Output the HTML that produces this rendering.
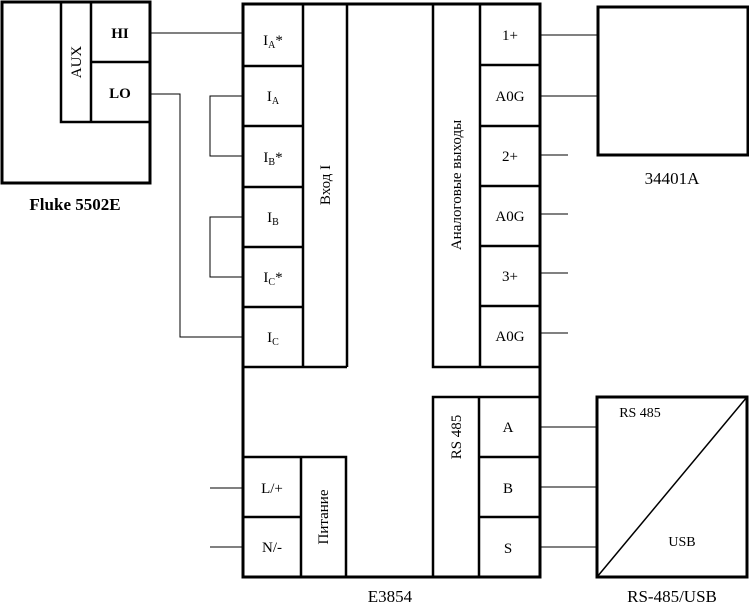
<!DOCTYPE html>
<html><head><meta charset="utf-8"><style>
html,body{margin:0;padding:0;background:#fff;}
svg{display:block;}
text{font-family:"Liberation Serif",serif;font-size:15px;fill:#000;}
.b{font-weight:bold;}
</style></head><body>
<svg width="749" height="604" viewBox="0 0 749 604" xmlns="http://www.w3.org/2000/svg">
<g fill="none" stroke="#000">
<rect x="2" y="2" width="148" height="181" stroke-width="3"/>
<polyline points="61,2 61,122 150,122" stroke-width="2.5"/>
<line x1="91" y1="2" x2="91" y2="122" stroke-width="2.5"/>
<line x1="91" y1="62" x2="150" y2="62" stroke-width="2.5"/>
<rect x="243" y="4" width="297" height="573" stroke-width="3"/>
<line x1="243" y1="367" x2="347" y2="367" stroke-width="2.5"/>
<line x1="303" y1="4" x2="303" y2="367" stroke-width="2.5"/>
<line x1="347" y1="4" x2="347" y2="367" stroke-width="2.5"/>
<line x1="243" y1="66" x2="303" y2="66" stroke-width="2.5"/>
<line x1="243" y1="126" x2="303" y2="126" stroke-width="2.5"/>
<line x1="243" y1="187" x2="303" y2="187" stroke-width="2.5"/>
<line x1="243" y1="247" x2="303" y2="247" stroke-width="2.5"/>
<line x1="243" y1="307" x2="303" y2="307" stroke-width="2.5"/>
<polyline points="433,4 433,367 540,367" stroke-width="2.5"/>
<line x1="480" y1="4" x2="480" y2="367" stroke-width="2.5"/>
<line x1="480" y1="65" x2="540" y2="65" stroke-width="2.5"/>
<line x1="480" y1="126" x2="540" y2="126" stroke-width="2.5"/>
<line x1="480" y1="186" x2="540" y2="186" stroke-width="2.5"/>
<line x1="480" y1="246" x2="540" y2="246" stroke-width="2.5"/>
<line x1="480" y1="306" x2="540" y2="306" stroke-width="2.5"/>
<polyline points="243,457 346,457 346,577" stroke-width="2.5"/>
<line x1="301" y1="457" x2="301" y2="577" stroke-width="2.5"/>
<line x1="243" y1="517" x2="301" y2="517" stroke-width="2.5"/>
<polyline points="433,577 433,397 540,397" stroke-width="2.5"/>
<line x1="479" y1="397" x2="479" y2="577" stroke-width="2.5"/>
<line x1="479" y1="457" x2="540" y2="457" stroke-width="2.5"/>
<line x1="479" y1="517" x2="540" y2="517" stroke-width="2.5"/>
<rect x="598" y="7" width="150" height="148" stroke-width="3"/>
<rect x="597" y="397" width="150" height="180" stroke-width="3"/>
<line x1="597" y1="577" x2="747" y2="397" stroke-width="1.5"/>
<g stroke-width="1">
<line x1="150" y1="33" x2="243" y2="33"/>
<polyline points="150,94 180,94 180,337 243,337"/>
<polyline points="243,96 210,96 210,156 243,156"/>
<polyline points="243,217 210,217 210,277 243,277"/>
<line x1="540" y1="35" x2="598" y2="35"/>
<line x1="540" y1="96" x2="598" y2="96"/>
<line x1="540" y1="155" x2="568" y2="155"/>
<line x1="540" y1="214" x2="568" y2="214"/>
<line x1="540" y1="273" x2="568" y2="273"/>
<line x1="540" y1="333" x2="568" y2="333"/>
<line x1="540" y1="427" x2="597" y2="427"/>
<line x1="540" y1="487" x2="597" y2="487"/>
<line x1="540" y1="547" x2="597" y2="547"/>
<line x1="210" y1="488" x2="243" y2="488"/>
<line x1="210" y1="547" x2="243" y2="547"/>
</g>
</g>
<g text-anchor="middle">
<text x="120" y="38" class="b">HI</text>
<text x="120" y="98" class="b">LO</text>
<text transform="translate(81,62) rotate(-90)">AUX</text>
<text x="75" y="210" class="b" style="font-size:17px">Fluke 5502E</text>
<text x="273" y="45">I<tspan font-size="10" dy="3">A</tspan><tspan dy="-3">*</tspan></text>
<text x="273" y="101">I<tspan font-size="10" dy="3">A</tspan></text>
<text x="273" y="162">I<tspan font-size="10" dy="3">B</tspan><tspan dy="-3">*</tspan></text>
<text x="273" y="222">I<tspan font-size="10" dy="3">B</tspan></text>
<text x="273" y="282">I<tspan font-size="10" dy="3">C</tspan><tspan dy="-3">*</tspan></text>
<text x="273" y="342">I<tspan font-size="10" dy="3">C</tspan></text>
<text transform="translate(330,185) rotate(-90)">Вход I</text>
<text transform="translate(461,185) rotate(-90)">Аналоговые выходы</text>
<text x="510" y="40">1+</text>
<text x="510" y="101">A0G</text>
<text x="510" y="161">2+</text>
<text x="510" y="221">A0G</text>
<text x="510" y="281">3+</text>
<text x="510" y="341">A0G</text>
<text x="672" y="184" style="font-size:17px">34401A</text>
<text x="272" y="493">L/+</text>
<text x="272" y="552">N/-</text>
<text transform="translate(328,517) rotate(-90)">Питание</text>
<text transform="translate(461,437) rotate(-90)">RS 485</text>
<text x="508" y="432">A</text>
<text x="508" y="493">B</text>
<text x="508" y="553">S</text>
<text x="640" y="417" style="font-size:14px">RS 485</text>
<text x="682" y="546" style="font-size:14px">USB</text>
<text x="390" y="602" style="font-size:17px">E3854</text>
<text x="672" y="602" style="font-size:17px">RS-485/USB</text>
</g>
</svg>
</body></html>
